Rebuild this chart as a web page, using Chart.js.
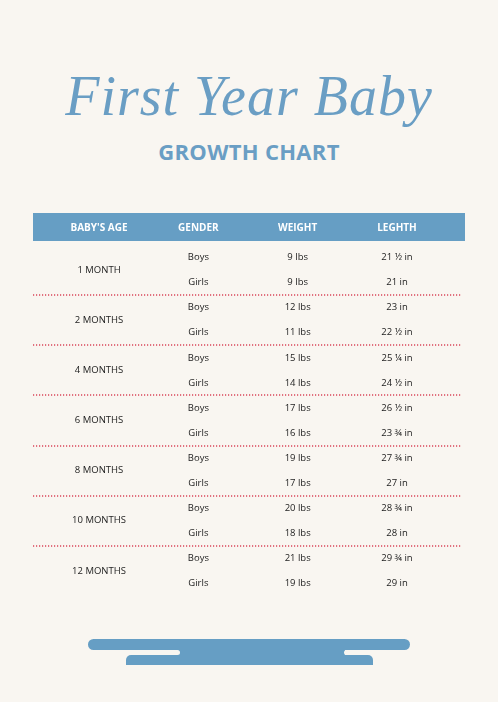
<!DOCTYPE html>
<html><head><meta charset="utf-8">
<script src="https://cdn.jsdelivr.net/npm/chart.js@4/dist/chart.umd.min.js"></script>
<style>
html,body{margin:0;padding:0;background:#f9f6f1;width:498px;height:702px;overflow:hidden;font-family:"Open Sans",sans-serif}
#wrap{position:absolute;left:0;top:0;width:498px;height:702px}
.t1{position:absolute;left:0;width:498px;text-align:center;top:64px;font-family:"Liberation Serif",serif;font-style:italic;font-size:56px;color:#6a9ec4;letter-spacing:1px;font-weight:normal}
.t2{position:absolute;left:0;width:498px;text-align:center;top:136px;font-size:22px;font-weight:700;color:#6a9ec4;letter-spacing:0.3px}
.b{position:absolute;background:#669ec4}
</style></head><body>
<div class="t1">First Year Baby</div>
<div class="t2">GROWTH CHART</div>
<div id="wrap"><canvas id="c"></canvas></div>
<div class="b" style="left:88px;top:639px;width:322px;height:11px;border-radius:6px"></div>
<div class="b" style="left:126px;top:655px;width:247px;height:10px;border-radius:5px 5px 0 0"></div>
<div class="b" style="left:165px;top:648px;width:180px;height:10px"></div>
<div style="position:absolute;left:150px;top:650px;width:30px;height:5px;border-radius:3px;background:#f9f6f1"></div>
<div style="position:absolute;left:344px;top:650px;width:40px;height:5px;border-radius:3px;background:#f9f6f1"></div>
<script>
const headers = ["BABY'S AGE","GENDER","WEIGHT","LEGHTH"];
const ages = ["1 MONTH","2 MONTHS","4 MONTHS","6 MONTHS","8 MONTHS","10 MONTHS","12 MONTHS"];
const genders = ["Boys","Girls"];
const boysWeight = ["9 lbs","12 lbs","15 lbs","17 lbs","19 lbs","20 lbs","21 lbs"];
const girlsWeight = ["9 lbs","11 lbs","14 lbs","16 lbs","17 lbs","18 lbs","19 lbs"];
const boysLength = ["21 ½ in","23 in","25 ¼ in","26 ½ in","27 ¾ in","28 ¾ in","29 ¾ in"];
const girlsLength = ["21 in","22 ½ in","24 ½ in","23 ¾ in","27 in","28 in","29 in"];

const cells = [];
ages.forEach((a,i)=>{
  cells.push({x:0,y:2*i+0.5,t:a});
  cells.push({x:1,y:2*i,t:genders[0]});
  cells.push({x:1,y:2*i+1,t:genders[1]});
  cells.push({x:2,y:2*i,t:boysWeight[i]});
  cells.push({x:2,y:2*i+1,t:girlsWeight[i]});
  cells.push({x:3,y:2*i,t:boysLength[i]});
  cells.push({x:3,y:2*i+1,t:girlsLength[i]});
});

const tablePlugin = {
  id:'table',
  beforeDatasetsDraw(chart){
    const {ctx, chartArea:ca, scales:{x,y}} = chart;
    ctx.save();
    ctx.fillStyle='#669ec4';
    ctx.fillRect(ca.left, ca.top-31, ca.right-ca.left, 28);
    ctx.fillStyle='#ffffff';
    ctx.font='bold 10px "Open Sans"';
    ctx.textAlign='center';ctx.textBaseline='middle';
    headers.forEach((h,i)=>ctx.fillText(h, x.getPixelForValue(i), ca.top-16));
    ctx.strokeStyle='#d9455a';ctx.lineWidth=1.5;ctx.setLineDash([1.2,1.8]);
    for(let i=0;i<ages.length-1;i++){
      const py = Math.round(y.getPixelForValue(2*i+1.5))+1;
      ctx.beginPath();ctx.moveTo(ca.left,py);ctx.lineTo(ca.right-4,py);ctx.stroke();
    }
    ctx.setLineDash([]);
    ctx.fillStyle='#222';
    ctx.font='9.5px "Open Sans"';
    chart.data.datasets[0].data.forEach(c=>{
      ctx.fillText(c.t, x.getPixelForValue(c.x), y.getPixelForValue(c.y)+1);
    });
    ctx.restore();
  }
};

new Chart(document.getElementById('c'),{
  type:'scatter',
  data:{datasets:[{data:cells,pointRadius:0,pointHoverRadius:0}]},
  options:{
    responsive:true,maintainAspectRatio:false,animation:false,
    events:[],
    layout:{padding:{left:33,right:33,top:244,bottom:107}},
    plugins:{legend:{display:false},tooltip:{enabled:false}},
    scales:{
      x:{type:'linear',min:-0.665,max:3.685,display:false},
      y:{type:'linear',min:-0.5,max:13.5,reverse:true,display:false}
    }
  },
  plugins:[tablePlugin]
});
</script>
</body></html>
